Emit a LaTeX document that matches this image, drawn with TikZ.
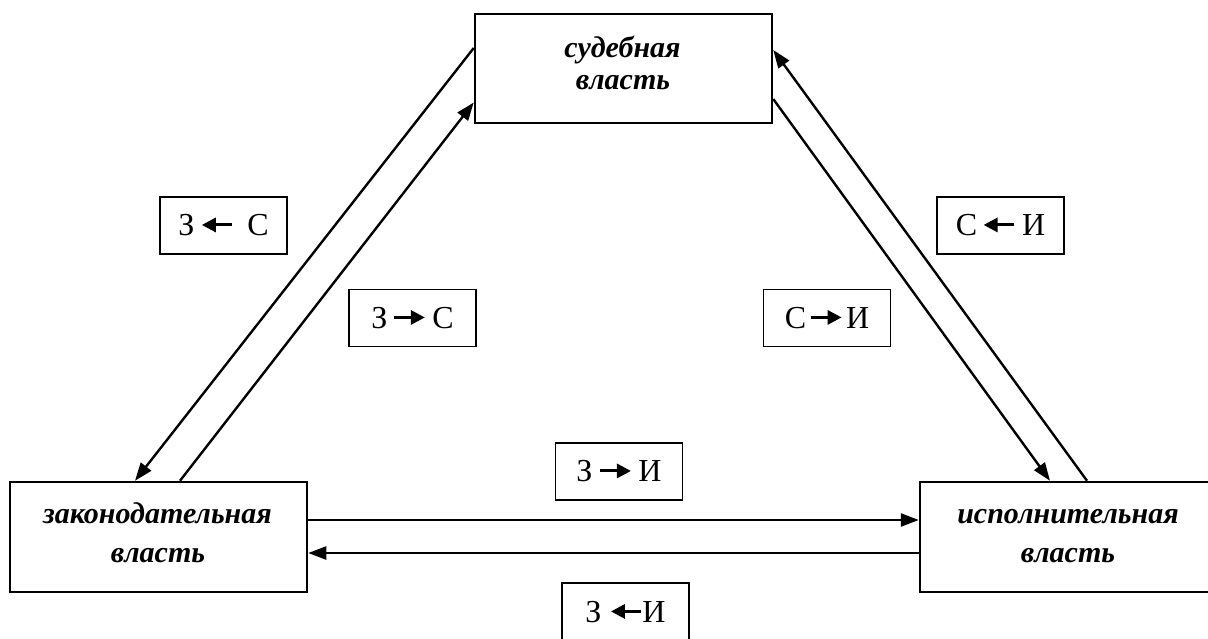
\documentclass[tikz,border=0pt]{standalone}
\usepackage{fontspec}
\setmainfont{Liberation Serif}
\usetikzlibrary{arrows.meta}
\newcommand{\lar}{\tikz[baseline={(0pt,-11pt)}]\draw[line width=3pt,-{Triangle[length=14pt,width=14pt]}] (30pt,0pt)--(0pt,0pt);}
\newcommand{\rar}{\tikz[baseline={(0pt,-11pt)}]\draw[line width=3pt,-{Triangle[length=14pt,width=14pt]}] (0pt,0pt)--(31pt,0pt);}
\tikzset{
  power/.style={draw, line width=2.5pt, minimum width=297pt, minimum height=109pt, inner sep=0pt},
  ptext/.style={anchor=base, inner sep=0pt, font=\fontsize{30}{34}\selectfont\bfseries\itshape},
  tag/.style={draw, line width=1.9pt, minimum width=127pt, minimum height=57pt, inner sep=0pt,
    font=\fontsize{32}{34}\selectfont},
  link/.style={line width=2.4pt, -{Triangle[length=18pt,width=13pt]}}
}
\begin{document}
\begin{tikzpicture}[x=1pt,y=-1pt]
\useasboundingbox (0,0) rectangle (1208,639);
\clip (0,0) rectangle (1208,639);
\fill[white] (0,0) rectangle (1208,639);
\node[power] (S) at (623.5,68.5) {};
\node[power, minimum height=110pt] (Z) at (158.5,537) {};
\node[power, minimum height=110pt] (I) at (1068.5,537) {};
\node[ptext] (S1) at (622.5,58) {судебная};
\node[ptext] (S2) at (623,90) {власть};
\node[ptext] (Z1) at (157.5,523) {законодательная};
\node[ptext] (Z2) at (158,562) {власть};
\node[ptext] (I1) at (1068,523) {исполнительная};
\node[ptext] (I2) at (1068,562) {власть};
\node[tag] (t1) at (223.5,225.5) {З\hspace{6pt}\lar\hspace{14pt}С};
\node[tag] (t2) at (412.5,318) {З\hspace{5pt}\rar\hspace{6pt}С};
\node[tag] (t3) at (1000.5,225.5) {С\hspace{5pt}\lar\hspace{7pt}И};
\node[tag] (t4) at (827,318) {С\hspace{3pt}\rar\hspace{3pt}И};
\node[tag] (t5) at (619,471.5) {З\hspace{6pt}\rar\hspace{6pt}И};
\node[tag, minimum height=58pt] (t6) at (625.5,612) {З\hspace{8pt}\lar\hspace{0pt}И};
\draw[link] ([yshift=20.5pt]S.west) -- ([xshift=-23.5pt]Z.north);
\draw[link] ([xshift=21.5pt]Z.north) -- ([yshift=-34pt]S.west);
\draw[link] ([xshift=18.5pt]I.north) -- ([yshift=18.5pt]S.east);
\draw[link] ([yshift=-30.5pt]S.east) -- ([xshift=-18.5pt]I.north);
\draw[link] ([yshift=17pt]Z.east) -- ([yshift=17pt]I.west);
\draw[link] ([yshift=-16pt]I.west) -- ([yshift=-16pt]Z.east);
\end{tikzpicture}
\end{document}
